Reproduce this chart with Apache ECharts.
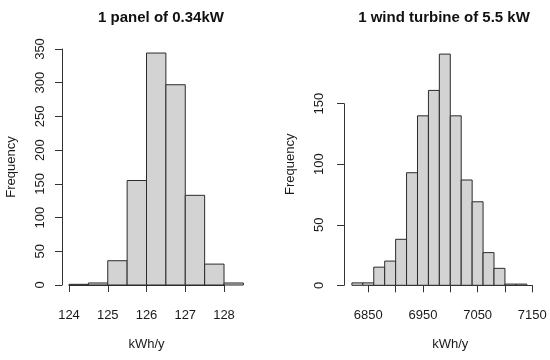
<!DOCTYPE html>
<html>
<head>
<meta charset="utf-8">
<script src="https://cdn.jsdelivr.net/npm/echarts@6/dist/echarts.min.js"></script>
<style>html,body{margin:0;padding:0;background:#fff}#c{width:550px;height:360px}</style>
</head>
<body>
<div id="c"></div>
<script>
// ---- data ----
const leftTitle = '1 panel of 0.34kW';
const rightTitle = '1 wind turbine of 5.5 kW';
const leftBreaks = [124, 124.5, 125, 125.5, 126, 126.5, 127, 127.5, 128, 128.5];
const leftCounts = [1, 3, 36, 155, 344, 297, 133, 31, 3];
const rightBreaks = [6820, 6840, 6860, 6880, 6900, 6920, 6940, 6960, 6980, 7000, 7020, 7040, 7060, 7080, 7100, 7120, 7140];
const rightCounts = [2, 2, 15, 20, 38, 93, 140, 161, 191, 140, 87, 69, 27, 14, 1, 1];
const leftXTicks = [124, 128, 1];      // min, max, step
const leftYTicks = [0, 350, 50];
const rightXTicks = [6850, 7150, 50];
const rightXLabels = [6850, 6950, 7050, 7150];
const rightYTicks = [0, 150, 50];
const xName = 'kWh/y';
const yName = 'Frequency';

function toBins(breaks, counts) {
  return counts.map((c, i) => [breaks[i], breaks[i + 1], c]);
}

const FONT = 'Liberation Sans, Arial, sans-serif';
const TXT = '#1a1a1a';
const LINE = '#333';
const FS = 13;
const nameStyle = { fontFamily: FONT, fontSize: FS, color: TXT };

function renderBar(params, api) {
  const p0 = api.coord([api.value(0), 0]);
  const p1 = api.coord([api.value(1), api.value(2)]);
  return {
    type: 'rect',
    shape: { x: p0[0], y: p1[1], width: p1[0] - p0[0], height: p0[1] - p1[1] },
    style: { fill: '#d3d3d3', stroke: '#2b2b2b', lineWidth: 1 }
  };
}

const hiddenAxis = (min, max, gi) => ({ type: 'value', min, max, show: false, gridIndex: gi, splitLine: { show: false } });
// axis that only carries a name (no line, ticks or labels)
const nameOnlyY = (min, max, gi, gap) => ({
  type: 'value', min, max, gridIndex: gi,
  name: yName, nameLocation: 'middle', nameGap: gap, nameRotate: 90, nameTextStyle: nameStyle,
  axisLine: { show: false }, axisTick: { show: false }, axisLabel: { show: false }, splitLine: { show: false }
});

function dispX(t, gi, labels) {
  return {
    type: 'value', gridIndex: gi, min: t[0], max: t[1], interval: t[2],
    offset: 10,
    name: xName, nameLocation: 'middle', nameGap: 43, nameTextStyle: nameStyle,
    axisLine: { show: true, lineStyle: { color: LINE, width: 1 } },
    axisTick: { show: true, length: 7, lineStyle: { color: LINE } },
    axisLabel: {
      fontFamily: FONT, fontSize: FS, color: TXT, margin: 14, hideOverlap: false,
      formatter: v => (!labels || labels.indexOf(v) >= 0) ? String(v) : ''
    },
    splitLine: { show: false }
  };
}
function dispY(t, gi, off, name, nameGap, labMargin) {
  return {
    type: 'value', gridIndex: gi, min: t[0], max: t[1], interval: t[2],
    offset: off,
    name: name, nameLocation: 'middle', nameGap: nameGap, nameRotate: 90, nameTextStyle: nameStyle,
    axisLine: { show: true, lineStyle: { color: LINE, width: 1 } },
    axisTick: { show: true, length: 7, lineStyle: { color: LINE } },
    axisLabel: { fontFamily: FONT, fontSize: FS, color: TXT, margin: labMargin, rotate: 90 },
    splitLine: { show: false }
  };
}

const chart = echarts.init(document.getElementById('c'), null, { renderer: 'canvas' });
chart.setOption({
  animation: false,
  title: [
    { text: leftTitle, left: 156, top: 5, textAlign: 'center', textStyle: { fontFamily: FONT, fontSize: 15, fontWeight: 'bold', color: '#111' } },
    { text: rightTitle, left: 439, top: 5, textAlign: 'center', textStyle: { fontFamily: FONT, fontSize: 15, fontWeight: 'bold', color: '#111' } }
  ],
  grid: [
    { left: 69, top: 49, width: 174.4, height: 236 },     // left bars
    { left: 69, top: 49, width: 155, height: 236 },       // left axes
    { left: 351.9, top: 43.2, width: 174.9, height: 242.1 }, // right bars
    { left: 368.3, top: 103.7, width: 164, height: 181.6 }   // right axes
  ],
  xAxis: [
    hiddenAxis(leftBreaks[0], leftBreaks[leftBreaks.length - 1], 0),
    dispX(leftXTicks, 1, null),
    hiddenAxis(rightBreaks[0], rightBreaks[rightBreaks.length - 1], 2),
    dispX(rightXTicks, 3, rightXLabels)
  ],
  yAxis: [
    hiddenAxis(0, 350, 0),
    dispY(leftYTicks, 1, 7, yName, 44, 15),
    nameOnlyY(0, 200, 2, 55),
    dispY(rightYTicks, 3, 24.3, '', 41, 18)
  ],
  series: [
    { type: 'custom', xAxisIndex: 0, yAxisIndex: 0, renderItem: renderBar, data: toBins(leftBreaks, leftCounts), encode: { x: [0, 1], y: 2 } },
    { type: 'custom', xAxisIndex: 2, yAxisIndex: 2, renderItem: renderBar, data: toBins(rightBreaks, rightCounts), encode: { x: [0, 1], y: 2 } }
  ]
});
</script>
</body>
</html>
